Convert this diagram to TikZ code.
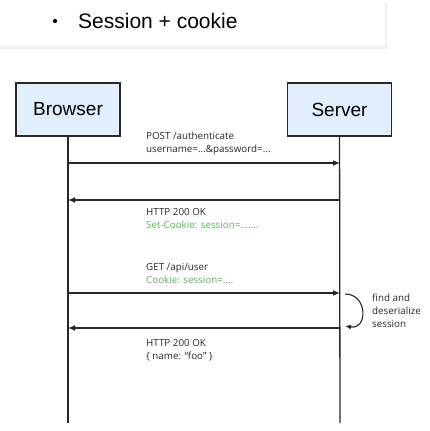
\documentclass[tikz,border=0pt]{standalone}
\usepackage{fontspec}
\setmainfont{Open Sans}
\newfontfamily\boxfont{Liberation Sans}
\usetikzlibrary{positioning}
\usetikzlibrary{calc}
\usetikzlibrary{arrows.meta}
\definecolor{boxblue}{RGB}{225,238,251}
\definecolor{cookiegreen}{RGB}{96,172,96}
\definecolor{lifegray}{RGB}{40,40,40}
\tikzset{
    actor/.style={draw=lifegray, line width=1.2pt, fill=boxblue, minimum width=104pt,
        minimum height=53pt, font=\boxfont\fontsize{19}{22}\selectfont},
    msg/.style={-{Latex[length=7pt,width=6pt]}, line width=1.3pt, draw=lifegray},
    msgtext/.style={font=\fontsize{9.8}{13}\selectfont, align=left, inner sep=0pt, text=black!85}
}

\begin{document}
\begin{tikzpicture}[x=1pt,y=-1pt]
    \useasboundingbox (0,0) rectangle (429,431);
    % card with the title
    \fill[black!6] (0,2) rectangle (387,49);
    \fill[white] (0,0) rectangle (385,46);
    \node[circle, fill, inner sep=1.5pt] (bullet) at (55,21) {};
    \node[anchor=west, inner sep=0pt, font=\boxfont\fontsize{21}{24}\selectfont] (title) at (78,21) {Session + cookie};

    % actors and lifelines
    \node[actor] (browser) at (68,109.5) {Browser};
    \node[actor] (server) at (339.5,109.5) {Server};
    \coordinate (bend) at (68,423);
    \coordinate (send) at (340,423);
    \draw[line width=1.3pt, lifegray] (browser) -- (bend);
    \draw[line width=1.3pt, lifegray] (server) -- (send);

    \foreach \n/\y in {1/163, 2/200, 3/293, 4/328} {
        \coordinate (b\n) at (68,\y);
        \coordinate (s\n) at (340,\y);
    }

    % messages
    \draw[msg] (b1) -- (s1);
    \node[msgtext, anchor=south west] (m1) at ($(b1)+(78,-8)$) {POST /authenticate\\username=...\&password=...};
    \draw[msg] (s2) -- (b2);
    \node[msgtext, anchor=north west] (m2) at ($(b2)+(78,8)$) {HTTP 200 OK\\\textcolor{cookiegreen}{Set-Cookie: session=.......}};
    \draw[msg] (b3) -- (s3);
    \node[msgtext, anchor=south west] (m3) at ($(b3)+(78,-9)$) {GET /api/user\\\textcolor{cookiegreen}{Cookie: session=....}};
    \draw[msg] (s4) -- (b4);
    \node[msgtext, anchor=north west] (m4) at ($(b4)+(78,11)$) {HTTP 200 OK\\\{ name: ``foo'' \}};

    % server looks up the session
    \coordinate (loopa) at (345,294);
    \coordinate (loopb) at (345,326);
    \draw[-{Latex[length=6pt,width=5pt]}, line width=1.1pt, lifegray]
        (loopa) .. controls (368,294) and (368,330) .. (loopb);
    \node[msgtext, anchor=west] (lookup) at (372,311) {find and\\deserialize\\session};
\end{tikzpicture}
\end{document}
